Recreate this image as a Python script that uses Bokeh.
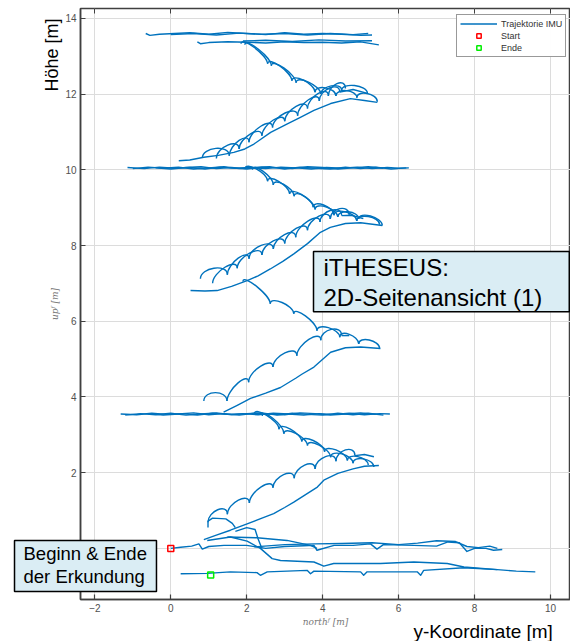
import numpy as np
from bokeh.plotting import figure
from bokeh.models import (Range1d, FixedTicker, LinearAxis, Label, Legend, LegendItem)
from bokeh.core.properties import value
from bokeh.embed import file_html
from bokeh.resources import INLINE

BLUE = "#0072BD"
LW = 1.4
FONT = "Liberation Sans"

# ---------------- data (metres) ----------------
x_ticks = [-2, 0, 2, 4, 6, 8, 10]
y_ticks = [0, 2, 4, 6, 8, 10, 12, 14]

start_x, start_y = [0.0], [0.0]
end_x, end_y = [1.05], [-0.70]

# plain polylines
ground_a_x = [0, 0.26, 0.55, 0.74, 0.83, 1.0, 1.4, 2.0, 2.5, 3.0, 3.5, 3.77, 3.85, 4.3, 4.8, 5.26, 5.43, 5.6, 6.4, 7.0, 7.3, 7.6, 7.8, 8.0, 8.3, 8.5, 8.73]
ground_a_y = [0, 0.03, 0.06, 0.12, -0.02, 0.05, 0.08, 0.08, 0.0, 0.05, 0.07, 0.08, -0.05, 0.08, 0.08, 0.12, -0.02, 0.1, 0.08, 0.06, 0.17, 0.15, -0.08, 0.0, 0.0, -0.05, -0.03]
ground_b_x = [2.2, 3.0, 3.8, 4.5, 5.3, 6.0, 6.5, 7.0, 7.5, 7.8, 8.1, 8.4, 8.6]
ground_b_y = [0.04, 0.1, 0.12, 0.13, 0.15, 0.1, 0.14, 0.2, 0.18, 0.05, 0.02, 0.06, 0.0]
ground_low_x = [0.26, 0.96, 1.57, 2.27, 2.36, 2.54, 3.59, 3.68, 3.77, 5.0, 5.08, 5.17, 6.49, 6.58, 6.66, 7.72, 8.6, 9.1, 9.6]
ground_low_y = [-0.67, -0.66, -0.62, -0.64, -0.71, -0.62, -0.58, -0.67, -0.6, -0.62, -0.71, -0.62, -0.62, -0.71, -0.58, -0.51, -0.56, -0.6, -0.62]
ground_mid_x = [0.96, 1.57, 2.01, 2.36, 2.67, 2.89, 3.77, 4.03, 4.29, 5.52, 6.4, 7.28, 7.72, 8.6]
ground_mid_y = [0.21, 0.3, 0.19, 0.0, -0.27, -0.32, -0.36, -0.47, -0.4, -0.4, -0.36, -0.4, -0.49, -0.56]
ground_arc_x = [1.49, 2.27, 3.06, 3.68, 3.85]
ground_arc_y = [0.3, 0.28, 0.21, 0.08, 0.0]
ground_hump_x = [1.7, 2.0, 2.22, 2.3, 2.4]
ground_hump_y = [0.45, 0.55, 0.5, 0.25, 0.0]
hook_a_x = [0.98, 0.98, 1.1, 1.45, 1.62, 1.7]
hook_a_y = [0.55, 0.72, 0.8, 0.78, 0.66, 0.55]
tail_a_x = [4.85, 5.1, 5.35]
tail_a_y = [2.45, 2.48, 2.42]
smooth_a_x = [0.87, 1.2, 1.57, 2.01, 2.35, 2.71, 3.0, 3.24, 3.55, 3.86, 4.03, 4.4, 4.8, 5.1, 5.48]
smooth_a_y = [0.23, 0.35, 0.48, 0.65, 0.78, 0.92, 1.08, 1.22, 1.42, 1.62, 1.8, 1.98, 2.1, 2.17, 2.19]

level1_a_x = [-1.32, -0.9, -0.5, -0.1, 0.3, 0.7, 1.1, 1.5, 1.9, 2.3, 2.7, 3.1, 3.5, 3.9, 4.3, 4.7, 5.1, 5.5, 5.77]
level1_a_y = [3.55, 3.53, 3.57, 3.54, 3.56, 3.52, 3.57, 3.54, 3.56, 3.53, 3.57, 3.55, 3.52, 3.56, 3.54, 3.57, 3.53, 3.56, 3.55]
level1_b_x = [-1.2, -0.8, -0.4, 0.0, 0.4, 0.8, 1.2, 1.6, 2.0, 2.4, 2.8, 3.2, 3.6, 4.0, 4.4, 4.8, 5.2, 5.6]
level1_b_y = [3.52, 3.56, 3.53, 3.57, 3.52, 3.55, 3.58, 3.53, 3.56, 3.58, 3.52, 3.57, 3.54, 3.52, 3.57, 3.53, 3.57, 3.52]
level1_c_x = [-0.6, -0.2, 0.2, 0.6, 1.0, 1.4, 1.8, 2.2, 2.6, 3.0, 3.4, 3.8, 4.2, 4.6, 5.0, 5.4]
level1_c_y = [3.56, 3.52, 3.55, 3.58, 3.53, 3.56, 3.52, 3.57, 3.55, 3.53, 3.58, 3.56, 3.52, 3.55, 3.58, 3.54]

smooth_c_x = [1.39, 1.75, 2.1, 2.5, 2.89, 3.3, 3.45, 3.77, 4.21, 4.6, 5.0, 5.52]
smooth_c_y = [3.6, 3.78, 3.96, 4.1, 4.25, 4.5, 4.6, 4.79, 5.18, 5.3, 5.32, 5.28]
tail_c_x = [4.5, 4.7]
tail_c_y = [5.62, 5.62]

smooth_e_x = [0.52, 0.9, 1.22, 1.6, 2.01, 2.3, 2.62, 2.95, 3.24, 3.6, 3.94, 4.2, 4.6, 5.0, 5.57]
smooth_e_y = [6.81, 6.8, 6.81, 6.92, 7.07, 7.2, 7.38, 7.58, 7.78, 8.05, 8.35, 8.48, 8.58, 8.6, 8.53]
tail_e_x = [4.5, 4.75, 5.07]
tail_e_y = [8.79, 8.8, 8.71]

level2_a_x = [-1.14, -0.7, -0.3, 0.1, 0.5, 0.9, 1.3, 1.7, 2.1, 2.5, 2.9, 3.3, 3.7, 4.1, 4.5, 4.9, 5.3, 5.7, 6.0, 6.27]
level2_a_y = [10.06, 10.03, 10.07, 10.04, 10.06, 10.02, 10.07, 10.04, 10.06, 10.03, 10.07, 10.05, 10.02, 10.06, 10.04, 10.07, 10.03, 10.06, 10.04, 10.05]
level2_b_x = [-1.0, -0.6, -0.2, 0.2, 0.6, 1.0, 1.4, 1.8, 2.2, 2.6, 3.0, 3.4, 3.8, 4.2, 4.6, 5.0, 5.4, 5.8, 6.2]
level2_b_y = [10.03, 10.07, 10.04, 10.07, 10.02, 10.05, 10.08, 10.03, 10.06, 10.08, 10.02, 10.07, 10.04, 10.02, 10.07, 10.03, 10.07, 10.02, 10.05]
level2_c_x = [-0.4, 0.0, 0.4, 0.8, 1.2, 1.6, 2.0, 2.4, 2.8, 3.2, 3.6, 4.0, 4.4, 4.8, 5.2, 5.6]
level2_c_y = [10.05, 10.02, 10.06, 10.08, 10.03, 10.06, 10.02, 10.07, 10.05, 10.03, 10.08, 10.06, 10.02, 10.05, 10.08, 10.04]

smooth_g_x = [0.21, 0.5, 0.87, 1.25, 1.66, 1.95, 2.19, 2.63, 3.07, 3.4, 3.77, 4.21, 4.73, 5.1, 5.44]
smooth_g_y = [10.24, 10.26, 10.33, 10.38, 10.46, 10.55, 10.68, 10.99, 11.21, 11.38, 11.57, 11.75, 11.88, 11.83, 11.78]
tail_g_x = [4.45, 4.8, 5.18]
tail_g_y = [12.05, 12.12, 12.02]

top_a_x = [-0.66, -0.55, -0.3, 0.1, 0.5, 1.0, 1.5, 2.0, 2.5, 3.0, 3.5, 4.0, 4.5, 5.0, 5.3]
top_a_y = [13.6, 13.55, 13.58, 13.6, 13.62, 13.58, 13.63, 13.6, 13.57, 13.62, 13.58, 13.6, 13.58, 13.55, 13.56]
top_b_x = [0.0, 0.6, 1.2, 1.8, 2.4, 3.0, 3.6, 4.2, 4.8, 5.2]
top_b_y = [13.57, 13.6, 13.56, 13.61, 13.58, 13.6, 13.56, 13.6, 13.57, 13.6]
top_c_x = [0.7, 0.78, 1.0, 1.5, 2.0, 2.5, 3.0, 3.5, 4.0, 4.5, 5.0, 5.48]
top_c_y = [13.38, 13.33, 13.36, 13.38, 13.37, 13.35, 13.38, 13.36, 13.37, 13.35, 13.38, 13.3]
top_d_x = [1.9, 2.5, 3.2, 3.9, 4.6, 5.3]
top_d_y = [13.4, 13.42, 13.39, 13.43, 13.4, 13.41]

# footstep cusps of the stair flights (each step drawn as an arch)
flight_a_x = [0.98, 1.49, 2.07, 2.69, 3.25, 3.8, 4.35, 4.85]
flight_a_y = [0.69, 0.9, 1.2, 1.6, 1.85, 2.1, 2.3, 2.45]
flight_b1_x = [2.41, 2.98, 3.6, 4.21, 4.8, 5.35]
flight_b1_y = [3.5, 3.03, 2.72, 2.41, 2.25, 2.15]
flight_b2_x = [2.2, 2.85, 3.45, 4.05, 4.65, 5.2]
flight_b2_y = [3.55, 3.15, 2.82, 2.55, 2.32, 2.2]
flight_c_x = [0.87, 1.48, 2.05, 2.69, 3.32, 3.95, 4.5]
flight_c_y = [3.89, 3.89, 4.39, 4.79, 5.09, 5.5, 5.62]
flight_d_x = [1.9, 2.62, 3.24, 3.85, 4.45, 4.95, 5.5]
flight_d_y = [7.05, 6.46, 6.2, 5.75, 5.58, 5.4, 5.28]
flight_e_x = [0.78, 1.49, 2.06, 2.7, 3.29, 3.93, 4.5]
flight_e_y = [7.12, 7.23, 7.65, 7.91, 8.22, 8.62, 8.79]
flight_e2_x = [1.1, 1.75, 2.4, 3.0, 3.6, 4.2, 4.7]
flight_e2_y = [7.0, 7.4, 7.75, 8.05, 8.4, 8.7, 8.8]
flight_f1_x = [1.95, 2.55, 3.13, 3.75, 4.3, 4.9, 5.5]
flight_f1_y = [10.02, 9.7, 9.36, 9.01, 8.8, 8.65, 8.55]
flight_f2_x = [2.15, 2.7, 3.25, 3.8, 4.4, 4.95, 5.57]
flight_f2_y = [10.0, 9.6, 9.3, 8.95, 8.75, 8.7, 8.53]
flight_g_x = [0.83, 1.54, 2.06, 2.68, 3.34, 3.91, 4.45]
flight_g_y = [10.31, 10.37, 10.73, 11.12, 11.43, 11.82, 12.05]
flight_g2_x = [1.2, 1.8, 2.4, 3.0, 3.6, 4.15, 4.6]
flight_g2_y = [10.3, 10.55, 10.9, 11.28, 11.62, 11.95, 12.15]
flight_h1_x = [1.85, 2.55, 3.19, 3.8, 4.35, 4.9, 5.44]
flight_h1_y = [13.33, 12.8, 12.35, 12.05, 11.95, 11.9, 11.8]
flight_h2_x = [1.95, 2.65, 3.3, 3.95, 4.5, 5.18]
flight_h2_y = [13.3, 12.75, 12.3, 12.0, 12.1, 12.02]

polylines = [
    (ground_a_x, ground_a_y), (ground_b_x, ground_b_y), (ground_low_x, ground_low_y),
    (ground_mid_x, ground_mid_y), (ground_arc_x, ground_arc_y), (ground_hump_x, ground_hump_y),
    (hook_a_x, hook_a_y), (tail_a_x, tail_a_y), (smooth_a_x, smooth_a_y),
    (level1_a_x, level1_a_y), (level1_b_x, level1_b_y), (level1_c_x, level1_c_y),
    (smooth_c_x, smooth_c_y), (tail_c_x, tail_c_y), (smooth_e_x, smooth_e_y), (tail_e_x, tail_e_y),
    (level2_a_x, level2_a_y), (level2_b_x, level2_b_y), (level2_c_x, level2_c_y),
    (smooth_g_x, smooth_g_y), (tail_g_x, tail_g_y),
    (top_a_x, top_a_y), (top_b_x, top_b_y), (top_c_x, top_c_y), (top_d_x, top_d_y),
]
ARCH_UP = 0.3
ARCH_DOWN = 0.22
flights = [
    (flight_a_x, flight_a_y, ARCH_UP), (flight_b1_x, flight_b1_y, ARCH_DOWN), (flight_b2_x, flight_b2_y, ARCH_DOWN),
    (flight_c_x, flight_c_y, ARCH_UP), (flight_d_x, flight_d_y, ARCH_DOWN), (flight_e_x, flight_e_y, ARCH_UP),
    (flight_e2_x, flight_e2_y, ARCH_UP),
    (flight_f1_x, flight_f1_y, ARCH_DOWN), (flight_f2_x, flight_f2_y, ARCH_DOWN), (flight_g_x, flight_g_y, ARCH_UP),
    (flight_g2_x, flight_g2_y, ARCH_UP),
    (flight_h1_x, flight_h1_y, ARCH_DOWN), (flight_h2_x, flight_h2_y, ARCH_DOWN),
]

# slide annotation texts (placed in data coordinates)
hoehe_text, hoehe_x, hoehe_y = ["Höhe [m]"], [-3.116], [13.032]
ykoord_text, ykoord_x, ykoord_y = ["y-Koordinate [m]"], [6.392], [-2.195]
begin_box = dict(left=[-4.116], right=[-0.377], top=[0.208], bottom=[-1.139])
begin_text, begin_x, begin_y = ["Beginn & Ende", "der Erkundung"], [-3.879, -3.879], [-0.135, -0.743]

# ---------------- figure ----------------
p = figure(width=570, height=641, output_backend="svg", toolbar_location=None,
           x_range=Range1d(-2.378, 10.527), y_range=Range1d(-1.35, 14.26),
           min_border_left=80, min_border_right=0, min_border_top=8, min_border_bottom=42)
p.background_fill_color = "white"
p.border_fill_color = "white"
p.outline_line_color = "#404040"
p.outline_line_width = 1.5

for ax, ticks in ((p.xaxis[0], x_ticks), (p.yaxis[0], y_ticks)):
    ax.ticker = FixedTicker(ticks=ticks)
    ax.axis_line_color = "#404040"
    ax.axis_line_width = 1.5
    ax.major_tick_in = 5
    ax.major_tick_out = 0
    ax.major_tick_line_color = "#404040"
    ax.major_tick_line_width = 1.2
    ax.minor_tick_line_color = None
    ax.major_label_text_font = FONT
    ax.major_label_text_font_size = "10px"
    ax.major_label_text_color = "#505050"
    ax.major_label_standoff = 4
    ax.axis_label_text_font = "DejaVu Serif"
    ax.axis_label_text_font_style = "italic"
    ax.axis_label_text_font_size = "9px"
    ax.axis_label_text_color = "#777777"
    ax.axis_label_standoff = 2
p.xaxis[0].axis_label = "north\u1da0 [m]"
p.yaxis[0].axis_label = "up\u1da0 [m]"

top = LinearAxis(ticker=FixedTicker(ticks=x_ticks), major_label_text_font_size="0px",
                 major_label_standoff=0, major_tick_in=5, major_tick_out=0,
                 major_tick_line_color="#404040", minor_tick_line_color=None,
                 axis_line_color=None, major_label_text_alpha=0)
p.add_layout(top, "above")

p.xgrid.ticker = FixedTicker(ticks=x_ticks)
p.ygrid.ticker = FixedTicker(ticks=y_ticks)
p.grid.grid_line_color = "#dcdcdc"
p.grid.grid_line_width = 1

r_traj = p.multi_line([pl[0] for pl in polylines], [pl[1] for pl in polylines],
                      line_color=BLUE, line_width=LW, line_join="round")
for fx, fy, h in flights:
    fx = np.asarray(fx); fy = np.asarray(fy)
    p.bezier(x0=fx[:-1], y0=fy[:-1], x1=fx[1:], y1=fy[1:],
             cx0=fx[:-1], cy0=fy[:-1] + h, cx1=fx[1:], cy1=fy[1:] + h,
             line_color=BLUE, line_width=LW)

r_start = p.scatter(start_x, start_y, marker="square", size=6, fill_color=None,
                    line_color="#ff0000", line_width=1.5)
r_end = p.scatter(end_x, end_y, marker="square", size=6, fill_color=None,
                  line_color="#00ee00", line_width=1.5)

legend = Legend(items=[LegendItem(label="Trajektorie IMU", renderers=[r_traj]),
                       LegendItem(label="Start", renderers=[r_start]),
                       LegendItem(label="Ende", renderers=[r_end])],
                location=(376, 542), label_text_font=FONT, label_text_font_size="9px",
                label_text_color="#333333", glyph_width=37, glyph_height=11, label_height=11,
                label_standoff=4, spacing=1, padding=3, margin=0,
                border_line_color="#333333", border_line_width=1, background_fill_color="white")
p.add_layout(legend)

# texts outside the frame: overlay-level glyphs
p.text(hoehe_x, hoehe_y, text=hoehe_text, angle=np.pi / 2, text_font=value(FONT),
       text_font_size="18px", text_color="black", text_align="center",
       text_baseline="middle", level="overlay")
p.text(ykoord_x, ykoord_y, text=ykoord_text, text_font=value(FONT),
       text_font_size="19px", text_color="black", text_align="left",
       text_baseline="alphabetic", level="overlay")
p.quad(left=begin_box["left"], right=begin_box["right"], top=begin_box["top"],
       bottom=begin_box["bottom"], fill_color="#daedf4", line_color="black",
       line_width=1.5, level="overlay")
p.text(begin_x, begin_y, text=begin_text, text_font=value(FONT), text_font_size="18.5px",
       text_color="black", text_align="left", text_baseline="alphabetic", level="overlay")

p.add_layout(Label(x=233, y=348, x_units="screen", y_units="screen",
                   text="iTHESEUS:\n2D-Seitenansicht (1)", anchor="top_left",
                   text_font=FONT, text_font_size="24px", text_color="black", text_align="left",
                   text_line_height=1.12,
                   padding=dict(left=10, right=27, top=2, bottom=1),
                   background_fill_color="#daedf4", border_line_color="black", border_line_width=1.5))

open("out.html", "w").write(file_html(p, INLINE))
